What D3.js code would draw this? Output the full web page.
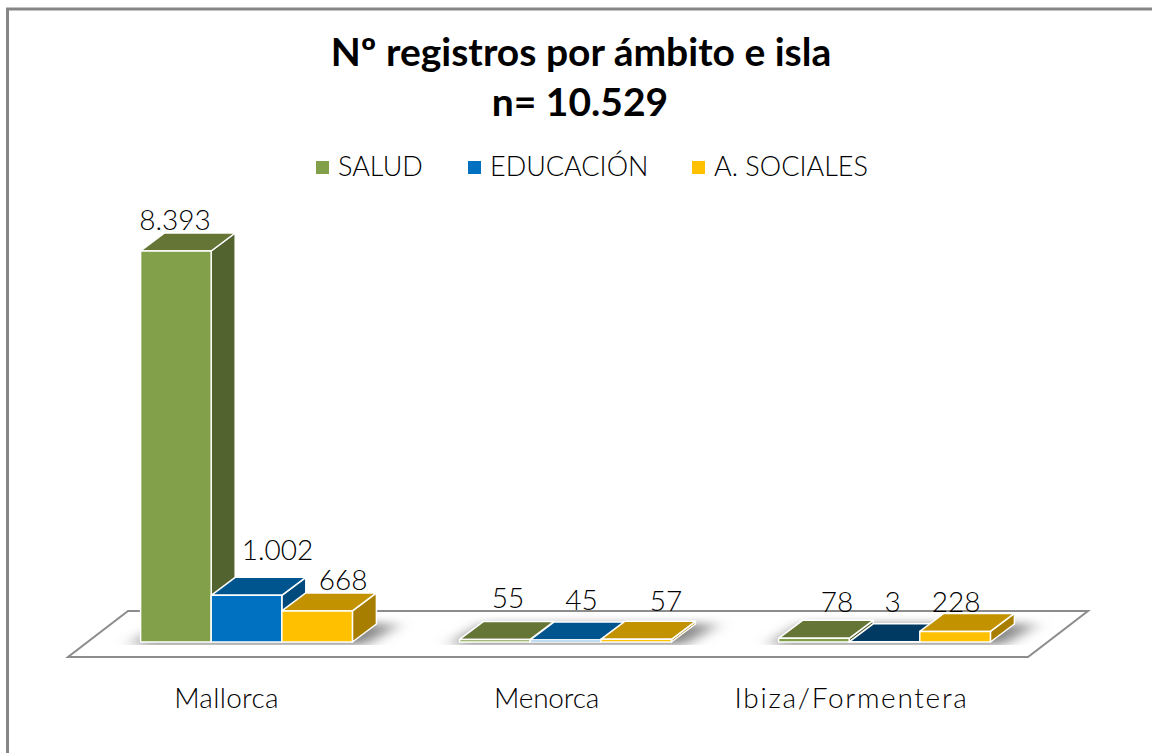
<!DOCTYPE html>
<html>
<head>
<meta charset="utf-8">
<script src="https://cdn.jsdelivr.net/npm/d3@7"></script>
<style>
  html, body { margin: 0; padding: 0; background: #fff; }
  svg { display: block; }
  text { font-family: Lato, sans-serif; fill: #000; }
</style>
</head>
<body>
<div id="chart"></div>
<script>
const islands = ["Mallorca", "Menorca", "Ibiza/Formentera"];
const series = ["SALUD", "EDUCACIÓN", "A. SOCIALES"];
const salud = [8393, 55, 78];
const educacion = [1002, 45, 3];
const sociales = [668, 57, 228];
const seriesValues = [salud, educacion, sociales];

// front, top and side colour of each series
const frontColors = ["#82a04a", "#0070c0", "#ffc000"];
const topColors = ["#647535", "#00558f", "#c29200"];
const sideColors = ["#53632f", "#004a7c", "#a87e00"];

const valueFormat = v => d3.format(",")(v).replace(",", ".");

// label shifts, same order as the series values
const labelDx = [[-1, 13, 23], [31, 16, 8], [26, 30, 1]];
const labelDy = [[-21, -31, -26], [-35, -30, -30], [-21, -28, -19]];
const islandDx = [-20, -19, -33];
const islandSpacing = [0.3, -0.2, 1.7];

const width = 1152;
const height = 753;
const depthX = 24;
const depthY = 18;

const svg = d3.select("#chart").append("svg")
    .attr("width", width)
    .attr("height", height);

const defs = svg.append("defs");
defs.append("filter").attr("id", "blur")
    .attr("x", "-30%").attr("y", "-100%").attr("width", "160%").attr("height", "300%")
    .append("feGaussianBlur").attr("stdDeviation", "9 5");
defs.append("clipPath").attr("id", "shadowClip")
    .append("rect").attr("x", 0).attr("y", 0).attr("width", width).attr("height", 645);

// Frame, only top and left edges show
svg.append("path")
    .attr("d", `M7.5,${height}V9H${width}`)
    .attr("fill", "none")
    .attr("stroke", "#868686")
    .attr("stroke-width", 3);

// Scales
const x0 = d3.scaleBand()
    .domain(islands)
    .range([87, 1044])
    .paddingInner(0.336)
    .paddingOuter(0.168);

const x1 = d3.scaleBand()
    .domain(series)
    .range([0, x0.bandwidth()]);

const y = d3.scaleLinear()
    .domain([0, 8393])
    .range([642, 251]);

const base = y(0);
const line = d3.line();

// Floor of the 3D plot
svg.append("path")
    .attr("d", line([[68, 657], [1028, 657], [1088, 611], [128, 611]]) + "Z")
    .attr("fill", "#fff")
    .attr("stroke", "#8c8c8c")
    .attr("stroke-width", 2);

// Soft shadow behind each group of bars
const shadows = svg.append("g").attr("clip-path", "url(#shadowClip)");
shadows.selectAll("path")
    .data(islands)
    .enter().append("path")
    .attr("d", d => {
        const l = x0(d);
        const r = l + x0.bandwidth();
        return line([[l - 10, base + 3], [r + 12, base + 3], [r + depthX + 22, base - depthY], [l + depthX, base - depthY]]) + "Z";
    })
    .attr("fill", "#858585")
    .attr("filter", "url(#blur)");

// Bars, drawn left to right so each one overlaps the side of the one before
const bars = svg.append("g");
islands.forEach((island, i) => {
    series.forEach((name, s) => {
        const value = seriesValues[s][i];
        const left = x0(island) + x1(name);
        const right = left + x1.bandwidth();
        const top = y(value);
        const g = bars.append("g")
            .attr("stroke", "#fff")
            .attr("stroke-width", 1.5)
            .attr("stroke-linejoin", "round");

        g.append("path")
            .attr("d", line([[right, top], [right + depthX, top - depthY], [right + depthX, base - depthY], [right, base]]) + "Z")
            .attr("fill", sideColors[s]);
        g.append("path")
            .attr("d", line([[left, top], [left + depthX, top - depthY], [right + depthX, top - depthY], [right, top]]) + "Z")
            .attr("fill", value < 10 ? "#003a63" : topColors[s]);
        g.append("rect")
            .attr("x", left)
            .attr("y", top)
            .attr("width", x1.bandwidth())
            .attr("height", base - top)
            .attr("fill", frontColors[s]);
    });
});

// Value labels
islands.forEach((island, i) => {
    series.forEach((name, s) => {
        const value = seriesValues[s][i];
        svg.append("text")
            .attr("x", x0(island) + x1(name) + x1.bandwidth() / 2 + labelDx[s][i])
            .attr("y", y(value) + labelDy[s][i])
            .attr("text-anchor", "middle")
            .attr("font-size", 28)
            .attr("font-weight", 300)
            .text(valueFormat(value));
    });
});

// Category axis, no line or ticks
const axis = svg.append("g")
    .attr("transform", "translate(0,688)")
    .call(d3.axisBottom(x0).tickSize(0).tickPadding(0));
axis.select(".domain").remove();
axis.selectAll("text")
    .attr("font-family", "Lato, sans-serif")
    .attr("font-size", 28)
    .attr("font-weight", 300)
    .attr("fill", "#000")
    .attr("letter-spacing", (d, i) => islandSpacing[i])
    .attr("dx", (d, i) => islandDx[i]);

// Title
svg.append("text")
    .attr("x", 581).attr("y", 66)
    .attr("text-anchor", "middle")
    .attr("font-size", 39)
    .attr("font-weight", 700)
    .text("Nº registros por ámbito e isla");
svg.append("text")
    .attr("x", 580).attr("y", 116)
    .attr("text-anchor", "middle")
    .attr("font-size", 39)
    .attr("font-weight", 700)
    .text("n= 10.529");

// Legend
const legendX = [316, 468, 692];
const legend = svg.append("g");
series.forEach((name, s) => {
    legend.append("rect")
        .attr("x", legendX[s]).attr("y", 161)
        .attr("width", 13).attr("height", 13)
        .attr("fill", frontColors[s]);
    legend.append("text")
        .attr("x", legendX[s] + 22).attr("y", 176)
        .attr("font-size", 27)
        .attr("font-weight", 300)
        .text(name);
});
</script>
</body>
</html>
